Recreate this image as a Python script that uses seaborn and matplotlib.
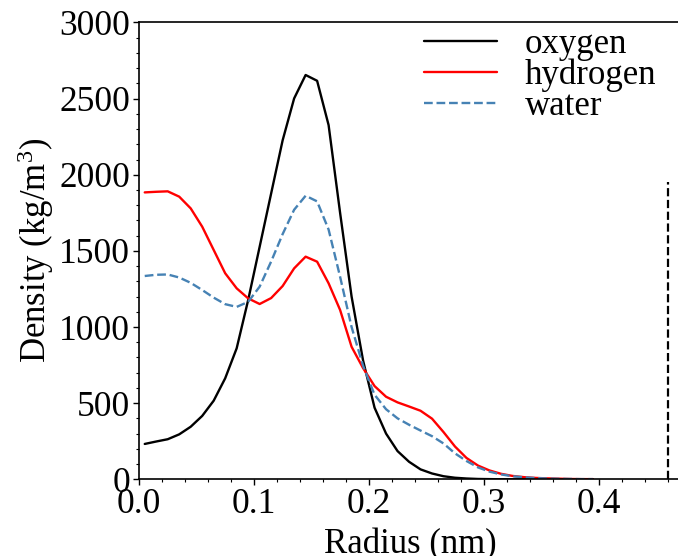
import numpy as np
import pandas as pd
import matplotlib
matplotlib.use("Agg")
import matplotlib.pyplot as plt
from matplotlib.ticker import MultipleLocator
import seaborn as sns

radius = [0.005, 0.015, 0.025, 0.035, 0.045, 0.055, 0.065, 0.075, 0.085, 0.095,
          0.105, 0.115, 0.125, 0.135, 0.145, 0.155, 0.165, 0.175, 0.185, 0.195,
          0.205, 0.215, 0.225, 0.235, 0.245, 0.255, 0.265, 0.275, 0.285, 0.295,
          0.305, 0.315, 0.325, 0.335, 0.345, 0.355, 0.365, 0.375, 0.385, 0.395]

oxygen = [232, 248, 263, 295, 345, 416, 516, 663, 860, 1177,
          1527, 1877, 2226, 2501, 2655, 2617, 2326, 1750, 1200, 780,
          470, 300, 185, 115, 65, 38, 20, 10, 5, 2,
          1, 0, 0, 0, 0, 0, 0, 0, 0, 0]

hydrogen = [1884, 1888, 1891, 1856, 1779, 1659, 1506, 1353, 1254, 1188,
            1151, 1190, 1269, 1385, 1462, 1429, 1287, 1112, 870, 730,
            612, 542, 505, 478, 450, 398, 310, 215, 140, 90,
            58, 36, 22, 14, 9, 6, 4, 2, 1, 1]

water = [1335, 1343, 1345, 1325, 1290, 1243, 1193, 1150, 1132, 1165,
         1265, 1430, 1610, 1770, 1862, 1825, 1640, 1330, 1000, 745,
         555, 460, 400, 358, 320, 283, 235, 170, 120, 78,
         50, 32, 20, 13, 8, 5, 3, 2, 1, 1]

series_names = ["oxygen", "hydrogen", "water"]
boundary_radius = 0.46

sns.set_theme(style="ticks")
plt.rcParams["font.family"] = ["Liberation Serif", "DejaVu Serif"]
plt.rcParams["mathtext.fontset"] = "custom"
plt.rcParams["mathtext.rm"] = "Liberation Serif"
plt.rcParams["mathtext.it"] = "Liberation Serif:italic"
plt.rcParams["text.color"] = "black"
plt.rcParams["axes.labelcolor"] = "black"
plt.rcParams["xtick.color"] = "black"
plt.rcParams["ytick.color"] = "black"

df = pd.DataFrame({"Radius": radius, "oxygen": oxygen,
                   "hydrogen": hydrogen, "water": water})

fig = plt.figure(figsize=(6.78, 5.56), dpi=100)
ax = fig.add_axes([0.205, 0.138, 0.80, 0.8216])

styles = {"oxygen": ("black", "-"), "hydrogen": ("red", "-"), "water": ("#4682B4", "--")}
for name in series_names:
    c, ls = styles[name]
    sns.lineplot(data=df, x="Radius", y=name, ax=ax, color=c, linestyle=ls,
                 linewidth=1.7, label=name)

ax.axvline(boundary_radius, ymin=0, ymax=0.65, color="black", linestyle="--", linewidth=1.6)

ax.set_xlim(0, 0.472)
ax.set_ylim(0, 3000)
ax.xaxis.set_minor_locator(MultipleLocator(0.02))
ax.yaxis.set_major_locator(MultipleLocator(500))
ax.yaxis.set_minor_locator(MultipleLocator(100))
ax.set_xticks([0.0, 0.1, 0.2, 0.3, 0.4])
ax.set_xticklabels(["0.0", "0.1", "0.2", "0.3", "0.4"])
ax.tick_params(axis="both", which="major", direction="out", length=4.5, width=1,
               labelsize=25.5, pad=2, colors="black")
ax.tick_params(axis="both", which="minor", direction="out", length=2.5, width=0.8,
               colors="black")
ax.spines["right"].set_visible(False)
for s in ["top", "left", "bottom"]:
    ax.spines[s].set_color("black")
    ax.spines[s].set_linewidth(1.2)

ax.set_xlabel("Radius (nm)", fontsize=25, labelpad=5, color="black")
ax.set_ylabel("Density (kg/m$^3$)", fontsize=25, labelpad=2, color="black")

leg = ax.legend(loc="upper right", bbox_to_anchor=(0.985, 1.025), frameon=False,
                fontsize=25, labelspacing=-0.07, handlelength=2.1, handletextpad=0.8,
                borderaxespad=0.1)
for t in leg.get_texts():
    t.set_color("black")

fig.savefig("out.png", dpi=100)
